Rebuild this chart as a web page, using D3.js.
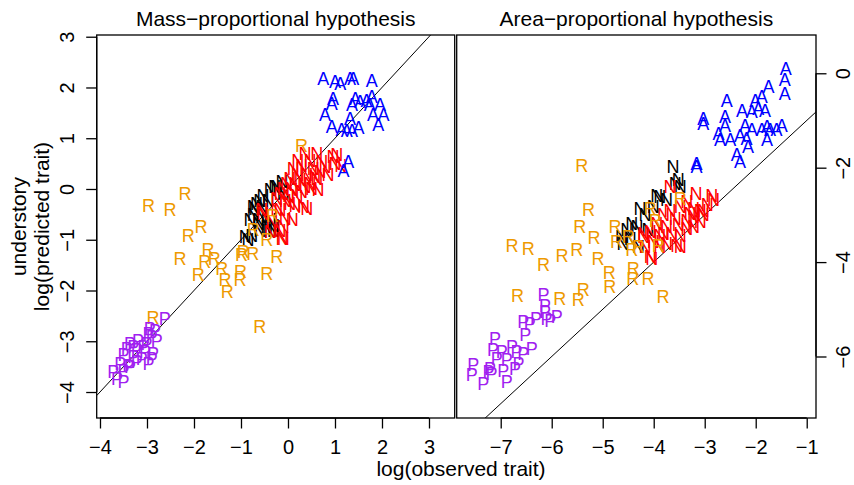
<!DOCTYPE html>
<html>
<head>
<meta charset="utf-8">
<script src="https://cdn.jsdelivr.net/npm/d3@7/dist/d3.min.js"></script>
<style>
  body { margin: 0; background: #fff; }
  text { font-family: "Liberation Sans", Arial, Helvetica, sans-serif; }
</style>
</head>
<body>
<svg id="chart" width="854" height="485"></svg>
<script>
// ---- data: [log observed, log predicted] ----
// mass-proportional panel
const massNblack = [[-0.13,0.14],[-0.28,0.05],[-0.38,-0.02],[-0.53,-0.12],[-0.60,-0.22],[-0.67,-0.28],[-0.42,-0.22],
  [-0.70,-0.38],[-0.53,-0.38],[-0.74,-0.51],[-0.56,-0.55],[-0.38,-0.61],[-0.81,-0.61],[-0.63,-0.68],[-0.45,-0.74],
  [-0.91,-0.94],[-0.77,-0.91],[-0.60,-0.81],[-0.31,-0.81],[-0.24,0.05],[-0.10,-0.08],[-0.74,-0.35],[-0.63,-0.61],
  [-0.38,-0.84],[-0.31,-0.71],[-0.85,-1.00]];
const massNred = [[0.36,0.70],[0.61,0.70],[0.47,0.57],[0.72,0.54],[1.04,0.67],[1.12,0.47],[0.29,0.47],[0.54,0.41],
  [0.68,0.34],[0.19,0.31],[0.40,0.28],[0.57,0.24],[0.04,0.21],[0.26,0.18],[0.47,0.11],[-0.03,0.11],[0.15,0.08],
  [0.36,0.05],[-0.10,0.01],[0.08,-0.02],[0.29,-0.05],[-0.17,-0.08],[0.01,-0.12],[0.19,-0.15],[-0.24,-0.18],
  [-0.06,-0.22],[0.40,-0.38],[0.15,-0.32],[-0.17,-0.41],[-0.56,-0.41],[-0.06,-0.58],[-0.17,-0.81],[-0.38,-0.84],
  [-0.10,-0.97],[0.61,0.21],[0.50,0.01],[0.79,0.44],[0.11,0.41],[0.96,0.64],[1.00,0.51],[-0.53,-0.48],[-0.10,-0.74],
  [-0.13,-0.97],[-0.24,-0.41],[0.33,-0.35],[0.21,0.57],[0.85,0.28],[0.64,-0.02],[0.04,-0.28],[-0.34,-0.65],[0.09,-0.61]];
const massR = [[-2.97,-0.32],[-2.51,-0.41],[-2.19,-0.08],[-1.85,-0.74],[-2.12,-0.91],[-1.70,-1.20],[-2.30,-1.37],
  [-1.77,-1.43],[-1.57,-1.37],[-1.41,-1.56],[-1.91,-1.69],[-1.34,-1.79],[-1.29,-2.02],[-1.01,-1.63],[-1.02,-1.78],
  [-0.99,-1.30],[-0.75,-1.27],[-0.24,-1.33],[-0.45,-1.66],[-0.74,-0.79],[-0.45,-0.99],[-0.33,-0.53],[-0.60,-2.71],
  [-2.87,-2.53],[0.29,0.85],[-0.95,-1.24]];
const massP = [[-2.62,-2.55],[-2.94,-2.74],[-2.83,-2.78],[-2.79,-2.98],[-2.90,-2.91],[-3.19,-2.98],[-3.36,-3.04],
  [-3.01,-3.04],[-3.43,-3.14],[-3.22,-3.17],[-3.04,-3.21],[-2.87,-3.24],[-3.50,-3.27],[-3.29,-3.30],[-3.11,-3.34],
  [-2.90,-3.34],[-3.57,-3.43],[-3.40,-3.47],[-3.22,-3.40],[-2.97,-3.43],[-3.72,-3.60],[-3.50,-3.57],[-3.36,-3.50],
  [-3.64,-3.73],[-3.50,-3.80],[-3.08,-3.11],[-2.97,-2.84],[-3.29,-3.11]];
const massA = [[0.75,2.18],[1.00,2.11],[1.11,2.08],[1.32,2.18],[1.39,2.18],[1.78,2.13],[0.96,1.79],[0.93,1.69],
  [1.43,1.79],[1.36,1.66],[1.53,1.72],[1.67,1.75],[1.78,1.82],[1.74,1.66],[1.96,1.66],[0.79,1.46],[1.32,1.39],
  [1.81,1.46],[2.03,1.46],[0.93,1.23],[1.14,1.18],[1.25,1.16],[1.36,1.16],[1.50,1.22],[1.92,1.28],[1.28,0.54],
  [1.18,0.37]];

// area-proportional panel
const areaNblack = [[-3.62,-1.98],[-3.52,-2.26],[-3.48,-2.40],[-3.58,-2.33],[-3.88,-2.61],[-3.75,-2.68],[-4.01,-2.83],
  [-4.27,-2.86],[-4.17,-3.00],[-4.43,-3.18],[-4.33,-3.25],[-4.53,-3.32],[-4.63,-3.46],[-4.46,-3.50],[-4.30,-3.67],
  [-4.60,-3.60],[-4.11,-3.32],[-3.94,-2.58]];
const areaNred = [[-3.68,-2.40],[-3.17,-2.54],[-2.86,-2.60],[-3.35,-2.72],[-3.22,-2.86],[-3.09,-2.90],[-3.68,-2.90],
  [-3.48,-2.83],[-3.81,-3.00],[-3.58,-3.07],[-3.35,-3.11],[-3.22,-3.04],[-3.94,-3.18],[-3.75,-3.25],[-3.52,-3.21],
  [-3.35,-3.28],[-4.07,-3.36],[-3.88,-3.43],[-3.65,-3.39],[-3.48,-3.43],[-4.20,-3.46],[-4.01,-3.57],[-3.75,-3.60],
  [-3.55,-3.64],[-4.17,-3.67],[-3.88,-3.67],[-4.04,-3.92],[-3.29,-2.97],[-3.03,-3.00],[-3.81,-3.39],[-4.07,-3.89],
  [-4.20,-3.39],[-3.48,-3.67],[-3.22,-3.25],[-3.03,-2.90],[-2.83,-2.68],[-3.09,-3.15],[-2.95,-2.79]];
const areaR = [[-5.41,-1.96],[-5.28,-2.88],[-5.45,-3.25],[-4.76,-3.25],[-5.17,-3.47],[-4.73,-3.57],[-4.50,-3.46],
  [-4.43,-3.74],[-4.30,-3.67],[-4.07,-2.86],[-3.97,-3.11],[-3.91,-3.64],[-6.78,-3.64],[-6.46,-3.71],[-6.16,-4.06],
  [-5.80,-3.87],[-5.51,-3.74],[-5.09,-3.92],[-4.87,-4.22],[-4.86,-4.52],[-4.40,-4.13],[-4.41,-4.34],[-4.11,-4.34],
  [-3.82,-4.72],[-5.38,-4.58],[-5.48,-4.79],[-5.84,-4.77],[-6.67,-4.70],[-3.48,-2.65]];
const areaP = [[-6.16,-4.68],[-6.13,-4.91],[-6.13,-5.05],[-6.56,-5.26],[-6.43,-5.30],[-6.31,-5.19],[-6.10,-5.19],
  [-5.90,-5.16],[-6.03,-5.23],[-6.52,-5.54],[-7.11,-5.61],[-7.15,-5.85],[-6.98,-5.90],[-6.78,-5.79],[-6.69,-5.90],
  [-6.56,-5.93],[-6.39,-5.83],[-7.08,-6.04],[-6.88,-6.07],[-6.65,-6.14],[-7.54,-6.18],[-7.21,-6.25],[-6.95,-6.29],
  [-6.72,-6.25],[-7.57,-6.39],[-7.18,-6.36],[-7.34,-6.57],[-6.88,-6.53],[-7.24,-6.32]];
const areaA = [[-1.41,0.11],[-1.43,-0.14],[-1.43,-0.42],[-1.75,-0.28],[-2.01,-0.57],[-1.88,-0.50],[-2.57,-0.57],
  [-2.27,-0.78],[-2.08,-0.81],[-1.95,-0.74],[-1.82,-0.78],[-3.03,-0.95],[-3.03,-1.06],[-2.60,-0.92],[-2.60,-1.10],
  [-2.21,-1.10],[-2.08,-1.20],[-1.78,-1.13],[-1.72,-1.20],[-1.49,-1.10],[-1.59,-1.20],[-1.88,-1.20],[-2.73,-1.27],
  [-2.70,-1.41],[-2.50,-1.41],[-2.31,-1.31],[-2.18,-1.38],[-1.78,-1.41],[-2.15,-1.56],[-2.37,-1.73],[-2.31,-1.87],
  [-3.16,-1.91],[-3.16,-1.98]];

const titles = ["Mass\u2212proportional hypothesis", "Area\u2212proportional hypothesis"];
const massXTicks = [-4, -3, -2, -1, 0, 1, 2, 3];
const massYTicks = [-4, -3, -2, -1, 0, 1, 2, 3];
const areaXTicks = [-7, -6, -5, -4, -3, -2, -1];
const areaYTicks = [0, -2, -4, -6];

const svg = d3.select("#chart");
const plotTop = 35, plotBottom = 418;
const fmt = d => d < 0 ? "\u2212" + Math.abs(d) : String(d);

const panels = [
  { title: titles[0], x0: 96.7, x1: 454.7, xdom: [-4.07, 3.547], ydom: [-4.512, 3.034],
    xticks: massXTicks, yticks: massYTicks, side: "left",
    groups: [[massNblack, "N", "#000000"], [massNred, "N", "#FF0000"], [massR, "R", "#EE9A00"],
             [massP, "P", "#A020F0"], [massA, "A", "#0000FF"]] },
  { title: titles[1], x0: 456.7, x1: 816, xdom: [-7.863, -0.818], ydom: [-7.303, 0.811],
    xticks: areaXTicks, yticks: areaYTicks, side: "right",
    groups: [[areaNblack, "N", "#000000"], [areaNred, "N", "#FF0000"], [areaR, "R", "#EE9A00"],
             [areaP, "P", "#A020F0"], [areaA, "A", "#0000FF"]] }
];

panels.forEach((p, i) => {
  const x = d3.scaleLinear().domain(p.xdom).range([p.x0, p.x1]);
  const y = d3.scaleLinear().domain(p.ydom).range([plotBottom, plotTop]);
  const g = svg.append("g");

  g.append("clipPath").attr("id", "clip" + i)
    .append("rect").attr("x", p.x0).attr("y", plotTop)
    .attr("width", p.x1 - p.x0).attr("height", plotBottom - plotTop);

  const plot = g.append("g").attr("clip-path", "url(#clip" + i + ")");

  // 1:1 line
  plot.append("line")
    .attr("x1", x(p.xdom[0])).attr("y1", y(p.xdom[0]))
    .attr("x2", x(p.xdom[1])).attr("y2", y(p.xdom[1]))
    .attr("stroke", "#000").attr("stroke-width", 1);

  p.groups.forEach(([pts, letter, col]) => {
    plot.selectAll(null).data(pts).enter().append("text")
      .attr("x", d => x(d[0])).attr("y", d => y(d[1]))
      .attr("dy", "0.36em")
      .attr("text-anchor", "middle")
      .attr("font-size", 18)
      .attr("fill", col)
      .text(letter);
  });

  g.append("rect").attr("x", p.x0).attr("y", plotTop)
    .attr("width", p.x1 - p.x0).attr("height", plotBottom - plotTop)
    .attr("fill", "none").attr("stroke", "#000").attr("stroke-width", 1.3);

  // bottom axis
  const xa = g.append("g").attr("transform", "translate(0," + plotBottom + ")")
    .call(d3.axisBottom(x).tickValues(p.xticks).tickFormat(fmt).tickSize(10.5).tickPadding(10));
  xa.select(".domain").attr("d", "M" + x(p.xticks[0]) + ",0H" + x(p.xticks[p.xticks.length - 1]))
    .attr("stroke-width", 1.3);
  xa.selectAll(".tick line").attr("stroke-width", 1.3);
  xa.selectAll(".tick text").attr("font-size", 20).attr("font-family", null).attr("dy", "0.75em");

  // vertical axis, rotated labels like base R
  const onLeft = p.side === "left";
  const ax = onLeft ? p.x0 : p.x1;
  const ya = g.append("g").attr("transform", "translate(" + ax + ",0)")
    .call((onLeft ? d3.axisLeft(y) : d3.axisRight(y)).tickValues(p.yticks).tickFormat(fmt).tickSize(10.5));
  ya.select(".domain").attr("d", "M0," + y(p.yticks[0]) + "V" + y(p.yticks[p.yticks.length - 1]))
    .attr("stroke-width", 1.3);
  ya.selectAll(".tick line").attr("stroke-width", 1.3);
  ya.selectAll(".tick text")
    .attr("font-size", 20).attr("font-family", null)
    .attr("x", null)
    .attr("text-anchor", "middle")
    .attr("transform", "translate(" + (onLeft ? -30 : 27) + ",0) rotate(-90)")
    .attr("dy", "0.36em");

  svg.append("text")
    .attr("x", (p.x0 + p.x1) / 2).attr("y", 18).attr("dy", "0.36em")
    .attr("text-anchor", "middle").attr("font-size", 21)
    .text(p.title);
});

svg.append("text")
  .attr("x", 461).attr("y", 468).attr("dy", "0.36em")
  .attr("text-anchor", "middle").attr("font-size", 21)
  .text("log(observed trait)");

[["understory", 18], ["log(predicted trait)", 41]].forEach(([t, cx]) => {
  svg.append("text")
    .attr("transform", "translate(" + cx + "," + (plotTop + plotBottom) / 2 + ") rotate(-90)")
    .attr("dy", "0.36em")
    .attr("text-anchor", "middle").attr("font-size", 21)
    .text(t);
});
</script>
</body>
</html>
